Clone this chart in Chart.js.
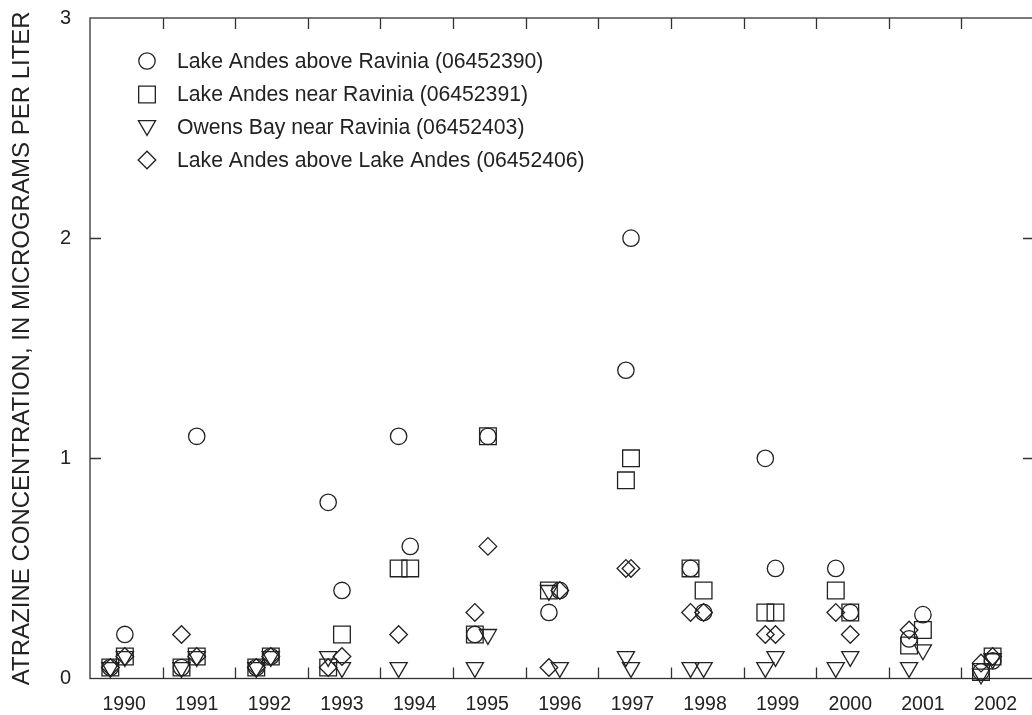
<!DOCTYPE html>
<html>
<head>
<meta charset="utf-8">
<script src="https://cdn.jsdelivr.net/npm/chart.js@4.4.1/dist/chart.umd.min.js"></script>
<style>
  html, body { margin: 0; padding: 0; background: #fff; overflow: hidden; }
  #wrap { width: 1036px; height: 715px; }
</style>
</head>
<body>
<div id="wrap"><canvas id="c" width="1036" height="715"></canvas></div>
<script>
// ---- Data ----
const seriesNames = [
  'Lake Andes above Ravinia (06452390)',
  'Lake Andes near Ravinia (06452391)',
  'Owens Bay near Ravinia (06452403)',
  'Lake Andes above Lake Andes (06452406)'
];
const sampleDates = [1990.28, 1990.48, 1991.26, 1991.47, 1992.29, 1992.49, 1993.28, 1993.47,
  1994.25, 1994.41, 1995.30, 1995.48, 1996.32, 1996.47, 1997.38, 1997.45, 1998.27, 1998.45,
  1999.30, 1999.44, 2000.27, 2000.47, 2001.28, 2001.47, 2002.27, 2002.43];
const aboveRavinia = [0.05, 0.2, 0.05, 1.1, 0.05, 0.1, 0.8, 0.4, 1.1, 0.6, 0.2, 1.1, 0.3, 0.4,
  1.4, 2.0, 0.5, 0.3, 1.0, 0.5, 0.5, 0.3, 0.18, 0.29, 0.03, 0.08];
const nearRavinia = [0.05, 0.1, 0.05, 0.1, 0.05, 0.1, 0.05, 0.2, 0.5, 0.5, 0.2, 1.1, 0.4, null,
  0.9, 1.0, 0.5, 0.4, 0.3, 0.3, 0.4, 0.3, 0.15, 0.22, 0.03, 0.1];
const owensBay = [0.05, 0.1, 0.05, 0.1, 0.05, 0.1, 0.1, 0.05, 0.05, null, 0.05, 0.2, 0.4, 0.05,
  0.1, 0.05, 0.05, 0.05, 0.05, 0.1, 0.05, 0.1, 0.05, 0.13, 0.02, 0.09];
const aboveLakeAndes = [0.05, 0.1, 0.2, 0.1, 0.05, 0.1, 0.05, 0.1, 0.2, null, 0.3, 0.6, 0.05, 0.4,
  0.5, 0.5, 0.3, 0.3, 0.2, 0.2, 0.3, 0.2, 0.22, null, 0.07, 0.1];
const yearLabels = ['1990','1991','1992','1993','1994','1995','1996','1997','1998','1999','2000','2001','2002'];
const yTickValues = [0, 1, 2, 3];
const yTitle = 'ATRAZINE CONCENTRATION, IN MICROGRAMS PER LITER';

// ---- Build ----
const FONT = '"Liberation Sans", Arial, Helvetica, sans-serif';
const INK = '#222';
function pts(vals) {
  const out = [];
  vals.forEach((v, i) => { if (v !== null) out.push({ x: sampleDates[i], y: v }); });
  return out;
}
const styles = [
  { pointStyle: 'circle', radius: 8.2, rotation: 0 },
  { pointStyle: 'rect', radius: 11.8, rotation: 0 },
  { pointStyle: 'triangle', radius: 9.9, rotation: 180 },
  { pointStyle: 'rectRot', radius: 8.8, rotation: 0 }
];
const valueSets = [aboveRavinia, nearRavinia, owensBay, aboveLakeAndes];
const datasets = valueSets.map((vals, i) => ({
  label: seriesNames[i],
  data: pts(vals),
  showLine: false,
  clip: false,
  pointStyle: styles[i].pointStyle,
  pointRadius: styles[i].radius,
  pointHoverRadius: styles[i].radius,
  pointRotation: styles[i].rotation,
  pointBorderWidth: 1.3,
  pointBackgroundColor: 'rgba(0,0,0,0)',
  pointBorderColor: INK,
  borderColor: INK,
  backgroundColor: 'rgba(0,0,0,0)'
}));

const frameTicks = {
  id: 'frameTicks',
  beforeDatasetsDraw(chart) {
    const { ctx, chartArea: a, scales: { x, y } } = chart;
    ctx.save();
    ctx.strokeStyle = '#333';
    ctx.lineWidth = 1.3;
    ctx.strokeRect(a.left, a.top, a.right - a.left, a.bottom - a.top);
    const L = 11;
    ctx.beginPath();
    for (let yr = Math.ceil(x.min) + 1; yr < x.max; yr++) {
      const px = Math.round(x.getPixelForValue(yr)) + 0.5;
      ctx.moveTo(px, a.bottom); ctx.lineTo(px, a.bottom - L);
      ctx.moveTo(px, a.top); ctx.lineTo(px, a.top + L);
    }
    yTickValues.forEach(v => {
      if (v <= y.min || v >= y.max) return;
      const py = Math.round(y.getPixelForValue(v)) + 0.5;
      ctx.moveTo(a.left, py); ctx.lineTo(a.left + L, py);
      ctx.moveTo(a.right, py); ctx.lineTo(a.right - L, py);
    });
    ctx.stroke();
    ctx.restore();
  }
};

const legendBox = {
  id: 'legendBox',
  afterDraw(chart) {
    const { ctx } = chart;
    const rowY = [61, 94.5, 127.5, 160];
    ctx.save();
    chart.data.datasets.forEach((ds, i) => {
      ctx.strokeStyle = INK;
      ctx.fillStyle = 'rgba(0,0,0,0)';
      ctx.lineWidth = 1.3;
      const yy = rowY[i] + (ds.pointStyle === 'triangle' ? -2 : 0);
      Chart.helpers.drawPoint(ctx, {
        pointStyle: ds.pointStyle, radius: ds.pointRadius, rotation: ds.pointRotation, borderWidth: 1.3
      }, 147, yy);
      ctx.fillStyle = INK;
      ctx.font = '21.2px ' + FONT;
      ctx.textBaseline = 'middle';
      ctx.textAlign = 'left';
      ctx.fillText(ds.label, 177, rowY[i] + 1);
    });
    ctx.restore();
  }
};

new Chart(document.getElementById('c'), {
  type: 'scatter',
  data: { datasets },
  plugins: [frameTicks, legendBox],
  options: {
    responsive: false,
    devicePixelRatio: 1,
    animation: false,
    layout: { autoPadding: false, padding: { top: 18, right: 2, left: 0, bottom: 0 } },
    plugins: { legend: { display: false }, tooltip: { enabled: false } },
    scales: {
      x: {
        type: 'linear',
        min: 1990, max: 2003,
        grid: { display: false },
        border: { display: false },
        afterBuildTicks: s => { s.ticks = yearLabels.map(l => ({ value: Number(l) + 0.47 })); },
        afterFit: s => { s.height = 36.5; s.paddingLeft = 0; s.paddingRight = 0; },
        ticks: {
          autoSkip: false, maxRotation: 0, padding: 6,
          color: INK, font: { family: FONT, size: 19.5 },
          callback: (v, i) => yearLabels[i]
        }
      },
      y: {
        min: 0, max: 3,
        grid: { display: false },
        border: { display: false },
        afterBuildTicks: s => { s.ticks = yTickValues.map(v => ({ value: v })); },
        afterFit: s => { s.width = 90; s.paddingTop = 0; s.paddingBottom = 0; },
        ticks: {
          padding: 11, color: INK, font: { family: FONT, size: 20 },
          callback: v => String(v)
        },
        title: {
          display: true, text: yTitle, color: INK,
          font: { family: FONT, size: 24 },
          padding: { top: 8, bottom: 0 }
        }
      }
    }
  }
});
</script>
</body>
</html>
